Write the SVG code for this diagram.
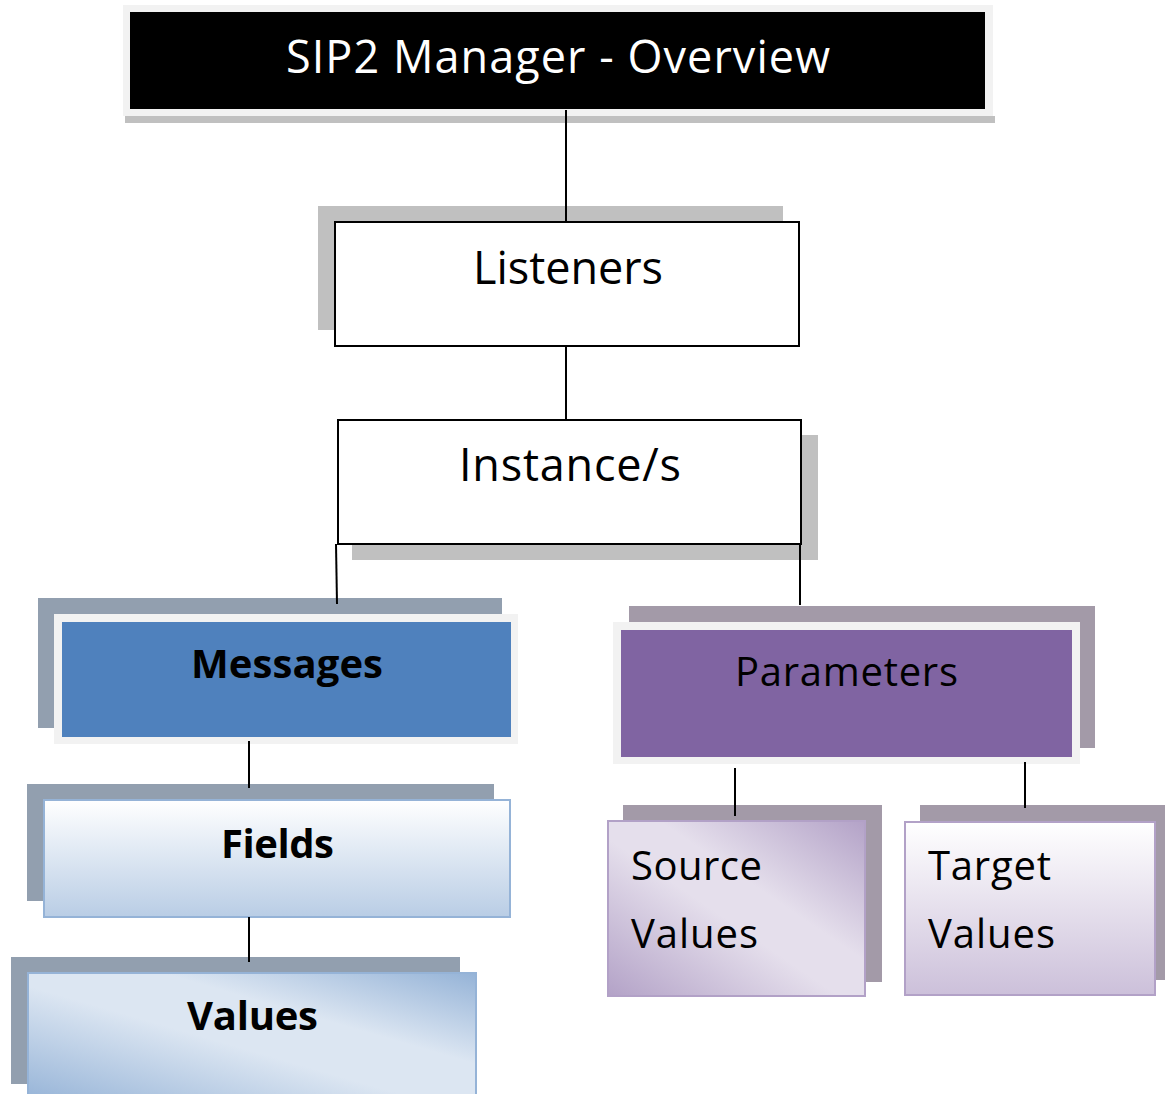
<svg xmlns="http://www.w3.org/2000/svg" width="1165" height="1094" viewBox="0 0 1165 1094">
<defs>
<linearGradient id="gFields" x1="0" y1="0" x2="0" y2="1"><stop offset="0" stop-color="#ffffff"/><stop offset="1" stop-color="#b9cde5"/></linearGradient>
<linearGradient id="gTarget" x1="0" y1="0" x2="0" y2="1"><stop offset="0" stop-color="#ffffff"/><stop offset="1" stop-color="#ccc0da"/></linearGradient>
<linearGradient id="gValues" x1="0" y1="1" x2="1" y2="0"><stop offset="0" stop-color="#95b3d7"/><stop offset="0.45" stop-color="#dce6f2"/><stop offset="0.65" stop-color="#dce6f2"/><stop offset="1" stop-color="#95b3d7"/></linearGradient>
<linearGradient id="gSource" x1="0" y1="1" x2="1" y2="0"><stop offset="0" stop-color="#b3a2c7"/><stop offset="0.45" stop-color="#e5dfec"/><stop offset="0.6" stop-color="#e5dfec"/><stop offset="1" stop-color="#b3a2c7"/></linearGradient>
</defs>
<style>
text{font-family:"Open Sans","Noto Sans","DejaVu Sans",sans-serif;font-size:45px;fill:#000}
.b{font-weight:bold;font-size:40px}
.m{font-size:40px}
.sg{fill:#c0c0c0}
.sb{fill:#929faf}
.sp{fill:#a39aa8}
.fr{fill:#f2f2f2}
.line{stroke:#000;stroke-width:2;fill:none}
</style>
<rect width="1165" height="1094" fill="#ffffff"/>
<g id="title">
<rect class="sg" x="125" y="116" width="870" height="7"/>
<rect class="fr" x="123" y="5" width="870" height="111"/>
<rect x="130" y="12" width="855" height="97" fill="#000"/>
<text x="286" y="73" textLength="544" style="fill:#fff">SIP2 Manager - Overview</text>
</g>
<g id="listeners">
<rect class="sg" x="318" y="206" width="465" height="124"/>
<rect x="335" y="222" width="464" height="124" fill="#fff" stroke="#000" stroke-width="2"/>
<text x="473" y="284" textLength="190">Listeners</text>
</g>
<g id="instances">
<rect class="sg" x="352" y="435" width="466" height="125"/>
<rect x="338" y="420" width="463" height="124" fill="#fff" stroke="#000" stroke-width="2"/>
<text x="459" y="481" textLength="222">Instance/s</text>
</g>
<g id="messages">
<rect class="sb" x="38" y="598" width="464" height="130"/>
<rect class="fr" x="54" y="614" width="464" height="130"/>
<rect x="62" y="622" width="449" height="115" fill="#4f81bd"/>
<text class="b" x="191" y="678" textLength="192">Messages</text>
</g>
<g id="parameters">
<rect class="sp" x="629" y="606" width="466" height="142"/>
<rect class="fr" x="613" y="622" width="467" height="142"/>
<rect x="621" y="630" width="451" height="127" fill="#8064a2"/>
<text class="m" x="735" y="686" textLength="223">Parameters</text>
</g>
<g id="fields">
<rect class="sb" x="27" y="784" width="467" height="117"/>
<rect x="44" y="800" width="466" height="117" fill="url(#gFields)" stroke="#95b3d7" stroke-width="2"/>
<text class="b" x="221" y="858" textLength="113">Fields</text>
</g>
<g id="values">
<rect class="sb" x="11" y="957" width="449" height="127"/>
<rect x="28" y="973" width="448" height="130" fill="url(#gValues)" stroke="#95b3d7" stroke-width="2"/>
<text class="b" x="187" y="1030" textLength="131">Values</text>
</g>
<g id="source-values">
<rect class="sp" x="623" y="805" width="259" height="177"/>
<rect x="608" y="821" width="257" height="175" fill="url(#gSource)" stroke="#b2a1c7" stroke-width="2"/>
<text class="m" x="631" y="880" textLength="131">Source</text>
<text class="m" x="631" y="948" textLength="127">Values</text>
</g>
<g id="target-values">
<rect class="sp" x="920" y="805" width="245" height="175"/>
<rect x="905" y="822" width="250" height="173" fill="url(#gTarget)" stroke="#b2a1c7" stroke-width="2"/>
<text class="m" x="928" y="880" textLength="123">Target</text>
<text class="m" x="928" y="948" textLength="127">Values</text>
</g>
<g id="connectors">
<line class="line" x1="566" y1="110" x2="566" y2="222"/>
<line class="line" x1="566" y1="346" x2="566" y2="420"/>
<line class="line" x1="336" y1="544" x2="337" y2="604"/>
<line class="line" x1="800" y1="544" x2="800" y2="605"/>
<line class="line" x1="249" y1="741" x2="249" y2="788"/>
<line class="line" x1="249" y1="917" x2="249" y2="962"/>
<line class="line" x1="735" y1="768" x2="735" y2="816"/>
<line class="line" x1="1025" y1="762" x2="1025" y2="808"/>
</g>
</svg>
